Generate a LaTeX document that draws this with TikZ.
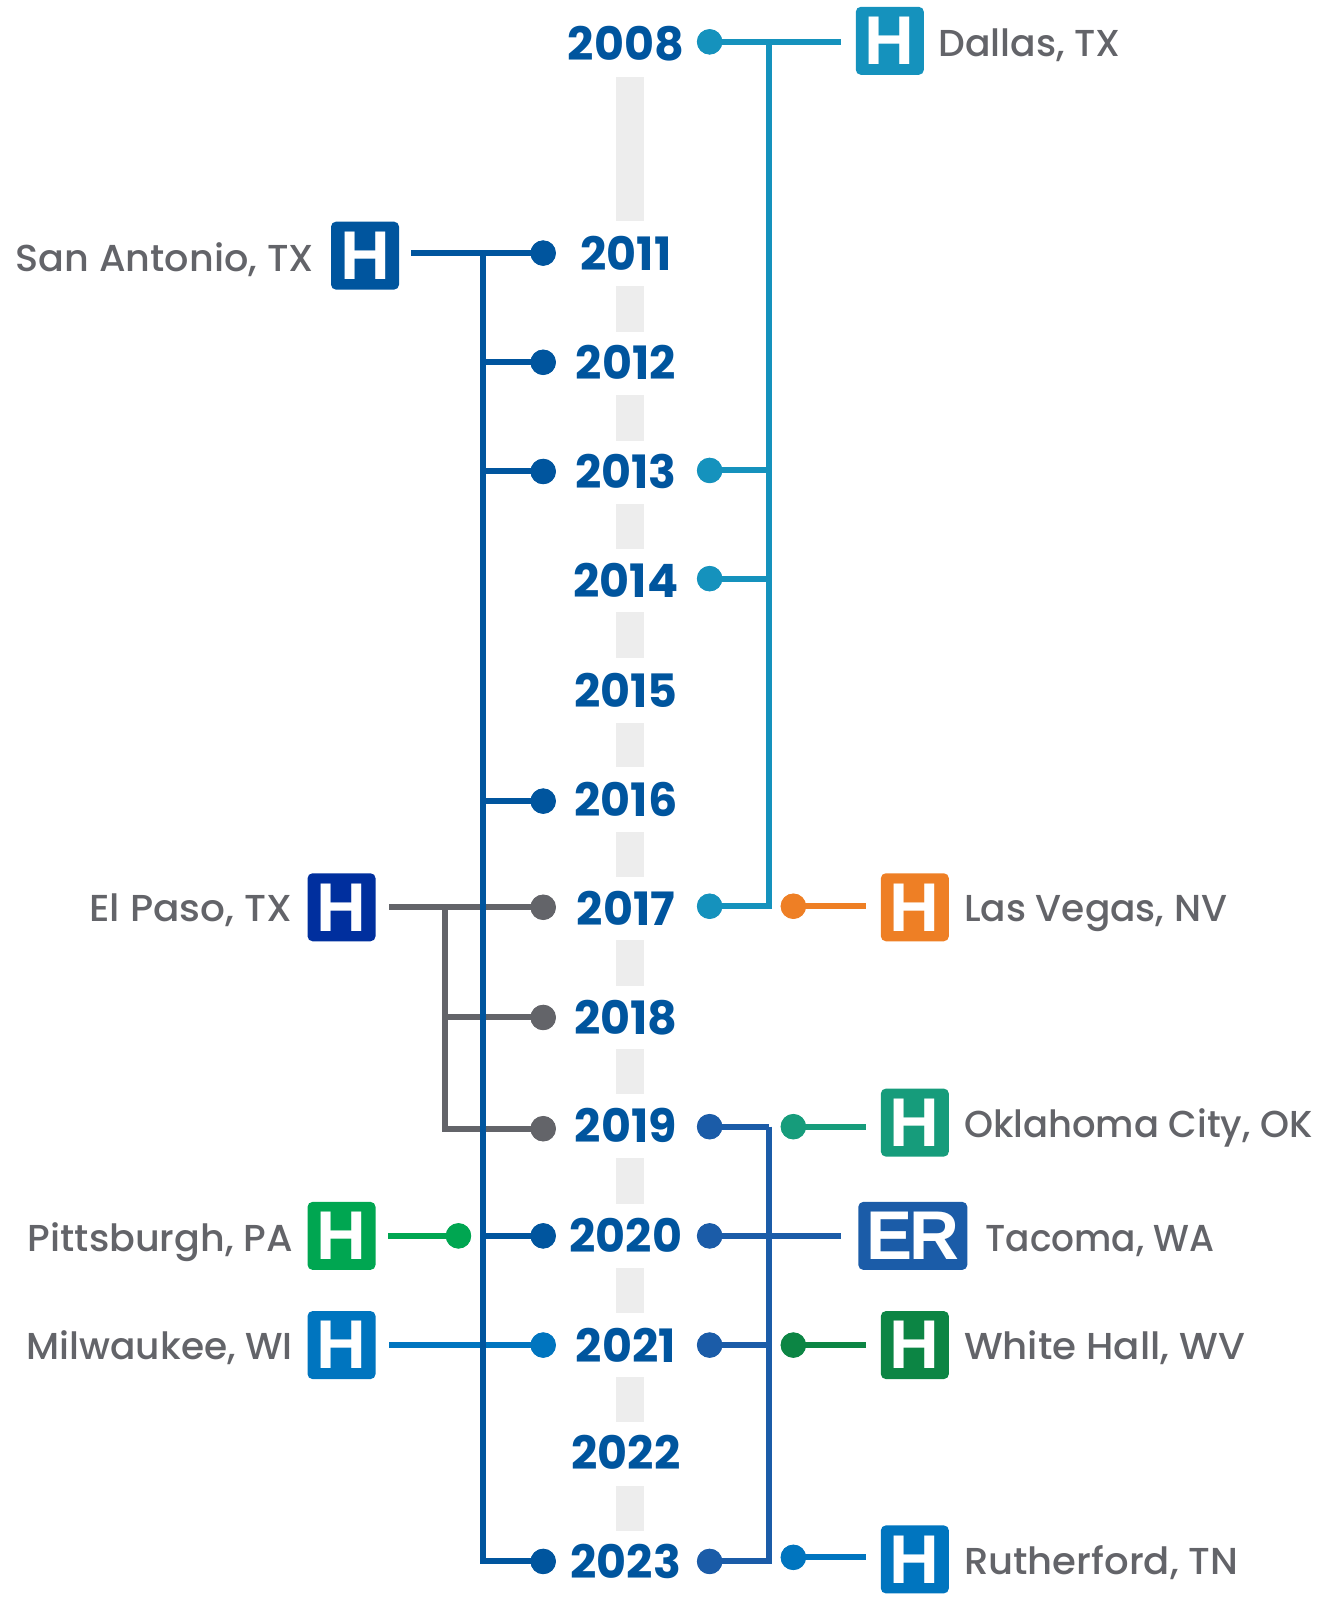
\documentclass[tikz,border=0pt]{standalone}
\usepackage{fontspec}
\setmainfont{Poppins}
\newfontfamily\iconfont{Liberation Sans}
\newfontfamily\placefont{Poppins Medium}
\definecolor{deep}{HTML}{00559E}
\definecolor{teal}{HTML}{1592BD}
\definecolor{slate}{HTML}{636469}
\definecolor{navy}{HTML}{002F9E}
\definecolor{grn}{HTML}{00A651}
\definecolor{sky}{HTML}{0075BF}
\definecolor{orng}{HTML}{EE7F25}
\definecolor{jade}{HTML}{169C7B}
\definecolor{royal}{HTML}{1B5CA8}
\definecolor{forest}{HTML}{0C8544}
\definecolor{pale}{HTML}{EDEDED}
\tikzset{
  yearlbl/.style={inner sep=0pt,text=deep,font=\fontsize{46}{46}\selectfont\bfseries},
  place/.style={inner sep=0pt,text=slate,font=\fontsize{37.5}{37.5}\selectfont\placefont},
  icon/.style={fill=#1,rounded corners=5,minimum width=68,minimum height=68,inner sep=0pt,text=white,
     font=\fontsize{69}{69}\selectfont\iconfont\bfseries},
  dot/.style={circle,fill=#1,minimum size=25,inner sep=0pt},
  wire/.style={draw=#1,line width=6},
  gapbar/.style={fill=pale,draw=none}
}
\newcommand{\stretchlbl}[2]{\scalebox{#1}[1]{#2}}
\begin{document}
\begin{tikzpicture}[x=1.021pt,y=-1.0205pt]
\useasboundingbox (0,0) rectangle (1309.5,1567.8);
% dashed grey spine
\foreach \a/\b in {75/217,280/325,387/432,494/538,600/645,708/752,815/859,921/966,1028/1072,1135/1180,1242/1287,1349/1393,1456/1500}
  \fill[gapbar] (603,\a) rectangle (631,\b);
% years
\foreach \n/\y in {2008/43,2011/248,2012/355,2013/462,2014/569,2015/676,2016/783,2017/890,2018/997,2019/1103,2020/1210,2021/1318,2022/1423,2023/1530}
  \node[yearlbl] (y\n) at (613,\y) {\n};
% icons
\node[icon=deep] (isa) at (357.5,250.5) {H};
\node[icon=teal] (ida) at (871.5,40) {H};
\node[icon=navy] (iep) at (334.5,889) {H};
\node[icon=grn] (ipi) at (334.5,1211) {H};
\node[icon=sky] (imi) at (334.5,1318) {H};
\node[icon=orng] (ilv) at (896,889) {H};
\node[icon=jade] (iok) at (896,1100) {H};
\node[icon=royal,minimum width=109] (ita) at (894,1211) {\addfontfeature{LetterSpace=-4}ER};
\node[icon=forest] (iwh) at (896,1318) {H};
\node[icon=sky] (iru) at (896,1528) {H};
% places
\node[place,anchor=base east] (lsa) at (307.5,266) {\stretchlbl{1.018}{San Antonio, TX}};
\node[place,anchor=base west] (lda) at (919,55) {\stretchlbl{1.005}{Dallas, TX}};
\node[place,anchor=base east] (lep) at (286.5,902.5) {\stretchlbl{1.04}{El Paso, TX}};
\node[place,anchor=base east] (lpi) at (287,1226) {\stretchlbl{1.016}{Pittsburgh, PA}};
\node[place,anchor=base east] (lmi) at (287,1332) {Milwaukee, WI};
\node[place,anchor=base west] (llv) at (944,902.5) {Las Vegas, NV};
\node[place,anchor=base west] (lok) at (944,1115) {\stretchlbl{0.985}{Oklahoma City, OK}};
\node[place,anchor=base west] (lta) at (965,1226) {\stretchlbl{0.957}{Tacoma, WA}};
\node[place,anchor=base west] (lwh) at (944,1332) {\stretchlbl{1.034}{White Hall, WV}};
\node[place,anchor=base west] (lru) at (944,1543) {\stretchlbl{1.03}{Rutherford, TN}};
% dots
\node[dot=deep] (d11) at (532,248) {};
\node[dot=deep] (d12) at (532,355) {};
\node[dot=deep] (d13) at (532,462) {};
\node[dot=deep] (d16) at (532,785) {};
\node[dot=slate] (d17g) at (532,889) {};
\node[dot=slate] (d18g) at (532,997) {};
\node[dot=slate] (d19g) at (532,1106) {};
\node[dot=grn] (dpi) at (449,1211) {};
\node[dot=deep] (d20) at (532,1211) {};
\node[dot=sky] (d21s) at (532,1318) {};
\node[dot=deep] (d23) at (532,1530) {};
\node[dot=teal] (r08) at (695,41) {};
\node[dot=teal] (r13) at (695,461) {};
\node[dot=teal] (r14) at (695,567) {};
\node[dot=teal] (r17) at (695,888) {};
\node[dot=orng] (dlv) at (777,888) {};
\node[dot=royal] (r19) at (695,1104) {};
\node[dot=jade] (dok) at (777,1104) {};
\node[dot=royal] (r20) at (695,1211) {};
\node[dot=royal] (r21) at (695,1318) {};
\node[dot=forest] (dwh) at (777,1318) {};
\node[dot=royal] (r23) at (695,1530) {};
\node[dot=sky] (dru) at (777,1526) {};
% free ends
\coordinate (sa0) at (403,248);
\coordinate (da0) at (824,41);
\coordinate (ep0) at (381,889);
\coordinate (pi0) at (380,1211);
\coordinate (mi0) at (381,1318);
\coordinate (lv0) at (848,888);
\coordinate (ok0) at (848,1104);
\coordinate (ta0) at (824,1211);
\coordinate (wh0) at (848,1318);
\coordinate (ru0) at (848,1526);
\coordinate (tr) at (473,248);
\coordinate (gt) at (436,889);
\coordinate (tl) at (753,41);
\coordinate (br) at (753,1104);
% grey group
\draw[wire=slate] (ep0) -- (d17g.center);
\draw[wire=slate] (gt) |- (d19g.center);
\draw[wire=slate] (gt |- d18g) -- (d18g.center);
% others that pass under the trunk
\draw[wire=sky] (mi0) -- (d21s.center);
\draw[wire=grn] (pi0) -- (dpi.center);
% deep blue trunk
\draw[wire=deep] (sa0) -- (d11.center);
\draw[wire=deep] (tr) |- (d23.center);
\draw[wire=deep] (tr |- d12) -- (d12.center);
\draw[wire=deep] (tr |- d13) -- (d13.center);
\draw[wire=deep] (tr |- d16) -- (d16.center);
\draw[wire=deep] (tr |- d20) -- (d20.center);
% teal group
\draw[wire=teal] (r08.center) -- (da0);
\draw[wire=teal] (tl) |- (r17.center);
\draw[wire=teal] (tl |- r13) -- (r13.center);
\draw[wire=teal] (tl |- r14) -- (r14.center);
% royal group
\draw[wire=royal] (r19.center) -| (br);
\draw[wire=royal] (br) |- (r23.center);
\draw[wire=royal] (r20.center) -- (ta0);
\draw[wire=royal] (r21.center) -- (br |- r21);
% short ones
\draw[wire=orng] (dlv.center) -- (lv0);
\draw[wire=jade] (dok.center) -- (ok0);
\draw[wire=forest] (dwh.center) -- (wh0);
\draw[wire=sky] (dru.center) -- (ru0);
% dots back on top
\foreach \p/\c in {d11/deep,d12/deep,d13/deep,d16/deep,d17g/slate,d18g/slate,d19g/slate,dpi/grn,d20/deep,d21s/sky,d23/deep,r08/teal,r13/teal,r14/teal,r17/teal,dlv/orng,r19/royal,dok/jade,r20/royal,r21/royal,dwh/forest,r23/royal,dru/sky}
  \fill[\c] (\p) circle (12.5);
\end{tikzpicture}
\end{document}
